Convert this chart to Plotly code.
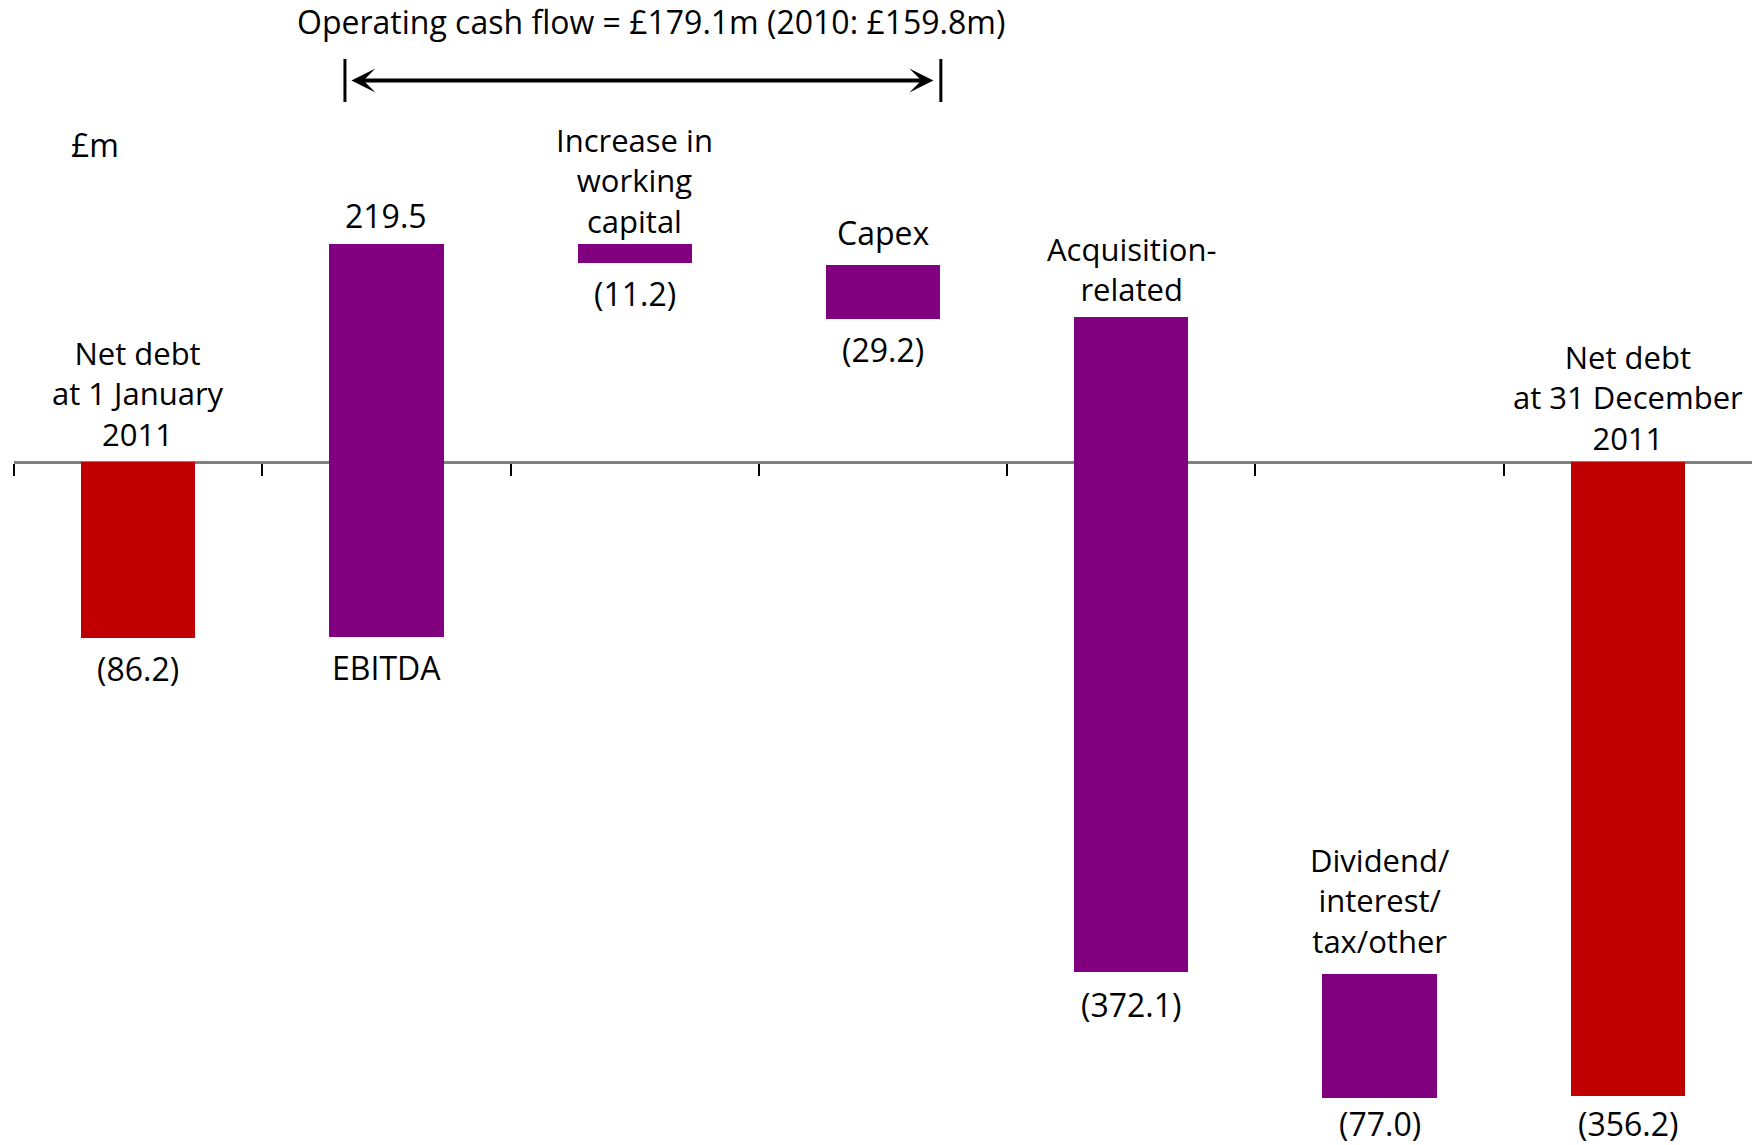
import plotly.graph_objects as go

# ---------------- data ----------------
categories = [
    "Net debt at 1 January 2011",
    "EBITDA",
    "Increase in working capital",
    "Capex",
    "Acquisition-related",
    "Dividend/interest/tax/other",
    "Net debt at 31 December 2011",
]
# bar extents as drawn in the picture (£m)
bar_start = [0.0, -98.2, 122.5, 110.7, 81.7, -287.8, 0.0]
bar_end = [-98.8, 122.5, 112.0, 80.2, -286.5, -357.3, -356.2]
bar_kind = ["total", "change", "change", "change", "change", "change", "total"]

top_labels = [
    "Net debt<br>at 1 January<br>2011",
    "219.5",
    "Increase in<br>working<br>capital",
    "Capex",
    "Acquisition-<br>related",
    "Dividend/<br>interest/<br>tax/other",
    "Net debt<br>at 31 December<br>2011",
]
bottom_labels = ["(86.2)", "EBITDA", "(11.2)", "(29.2)", "(372.1)", "(77.0)", "(356.2)"]

title_text = "Operating cash flow = £179.1m (2010: £159.8m)"
unit_text = "£m"
# operating cash flow span (in category positions)
ocf_span = [0.833, 3.233]

# ---------------- style ----------------
FONT = "Open Sans, Noto Sans, DejaVu Sans, sans-serif"
FS_SINGLE = 32
FS_MULTI = 31
PURPLE = "#800080"
RED = "#C00000"
kind_color = {"total": RED, "change": PURPLE}
top_shift = [6, 6.5, 1, 10, 6, 11, 2]
bottom_shift = [-31, -31, -31, -30, -33, -26, -28]

W, H = 1752, 1145
ML = 14
Y_RANGE = [-383.9, 259.7]
x_pos = list(range(len(categories)))

base = [min(a, b) for a, b in zip(bar_start, bar_end)]
height = [abs(b - a) for a, b in zip(bar_start, bar_end)]
tops = [max(a, b) for a, b in zip(bar_start, bar_end)]


def fs(text):
    return FS_MULTI if "<br>" in text else FS_SINGLE


def px_x(px):
    return (px - ML) / (W - ML)


fig = go.Figure()
fig.add_trace(go.Bar(
    x=x_pos, y=height, base=base, width=0.46,
    marker=dict(color=[kind_color[k] for k in bar_kind], line=dict(width=0)),
    hovertext=categories, showlegend=False,
))

annotations = []
for i in x_pos:
    annotations.append(dict(
        x=i, y=tops[i], xref="x", yref="y", text=top_labels[i], showarrow=False,
        xanchor="center", yanchor="bottom", yshift=top_shift[i], align="center",
        borderpad=0,
        font=dict(family=FONT, size=fs(top_labels[i]), color="black"),
    ))
    annotations.append(dict(
        x=i, y=base[i], xref="x", yref="y", text=bottom_labels[i], showarrow=False,
        xanchor="center", yanchor="middle", yshift=bottom_shift[i], borderpad=0,
        font=dict(family=FONT, size=fs(bottom_labels[i]), color="black"),
    ))

annotations.append(dict(
    x=px_x(651), y=1 - 22 / H, xref="paper", yref="paper", text=title_text,
    showarrow=False, xanchor="center", yanchor="middle", borderpad=0,
    font=dict(family=FONT, size=FS_SINGLE, color="black"),
))
annotations.append(dict(
    x=px_x(70), y=1 - 145 / H, xref="paper", yref="paper", text=unit_text,
    showarrow=False, xanchor="left", yanchor="middle", borderpad=0,
    font=dict(family=FONT, size=FS_SINGLE, color="black"),
))
arrow_y = 1 - 80.5 / H
annotations.append(dict(
    x=ocf_span[1] - 0.03, y=arrow_y, xref="x", yref="paper",
    ax=ocf_span[0] + 0.02, ay=0, axref="x", ayref="pixel",
    text="", showarrow=True, arrowhead=3, startarrowhead=3, arrowside="end+start",
    arrowsize=1, startarrowsize=1, arrowwidth=4, arrowcolor="black",
))

shapes = []
for xv in ocf_span:
    shapes.append(dict(
        type="line", xref="x", yref="paper", x0=xv, x1=xv,
        y0=1 - 59 / H, y1=1 - 102 / H, line=dict(color="black", width=3),
    ))

axis_pos = -Y_RANGE[0] / (Y_RANGE[1] - Y_RANGE[0])

fig.update_layout(
    width=W, height=H,
    margin=dict(l=ML, r=0, t=0, b=0, pad=0),
    paper_bgcolor="white", plot_bgcolor="white",
    bargap=0,
    annotations=annotations,
    shapes=shapes,
    xaxis=dict(
        type="linear", range=[-0.5, len(categories) - 0.5],
        tickvals=[i - 0.5 for i in x_pos], ticks="outside", ticklen=12,
        tickwidth=2, tickcolor="black", showticklabels=False,
        showline=True, linecolor="#808080", linewidth=3,
        anchor="free", position=axis_pos, layer="below traces",
        showgrid=False, zeroline=False, fixedrange=True,
    ),
    yaxis=dict(
        range=Y_RANGE, visible=False, showgrid=False, zeroline=False, fixedrange=True,
    ),
    font=dict(family=FONT, size=FS_SINGLE, color="black"),
)

fig.write_html("out.html", config={"displayModeBar": False})
